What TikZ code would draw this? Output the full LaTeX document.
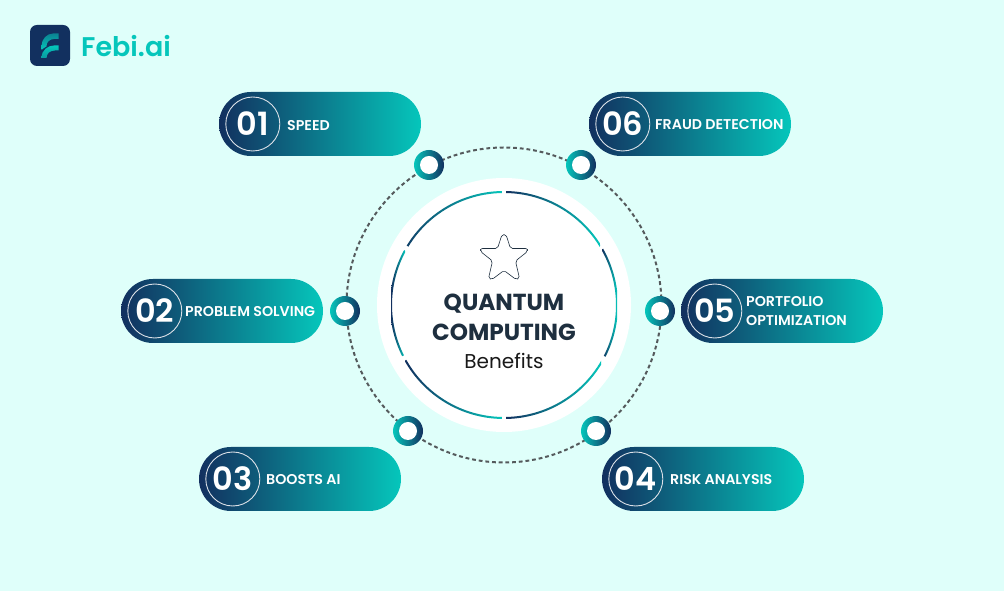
\documentclass[tikz,border=0pt]{standalone}
\usepackage{fontspec}
\setmainfont{Poppins}[BoldFont={* SemiBold}]
\newfontfamily\popbold{Poppins}[UprightFont={* Bold}]
\definecolor{bgc}{HTML}{DFFFFA}
\definecolor{navy}{HTML}{12305F}
\definecolor{teal2}{HTML}{05C6BB}
\definecolor{inkc}{HTML}{1E2F3F}
\definecolor{dotc}{HTML}{555A5C}
\tikzset{
  x=1pt,y=1pt,
  pill/.style={rounded corners=32pt,minimum width=202pt,minimum height=64pt,inner sep=0pt,left color=navy,right color=teal2},
  numring/.style={circle,draw=white!85!navy,line width=0.9pt,minimum size=54pt,inner sep=0pt,text=white,font=\bfseries\fontsize{32}{32}\selectfont},
  plabel/.style={anchor=west,inner sep=0pt,text=white,align=left,font=\bfseries\fontsize{14.2}{19}\selectfont},
  ringout/.style={circle,minimum size=30pt,inner sep=0pt,left color=teal2,right color=navy},
  ringin/.style={circle,minimum size=18pt,inner sep=0pt,fill=white},
}
\newcommand{\gradarc}[4]{%
  \begin{scope}
    \clip ([shift={(#1:114)}]504,286) arc[start angle=#1,end angle=#2,radius=114]
       -- ([shift={(#2:112)}]504,286) arc[start angle=#2,end angle=#1,radius=112] -- cycle;
    \shade[left color=navy,right color=teal2] (#3,160) rectangle (#4,412);
  \end{scope}}
\newcommand{\pillitem}[7]{% name, cx, cy, number, label x, label y, label
  \node[pill] (p#1) at (#2,#3) {};
  \node[numring] (n#1) at (#2-67.2,#3) {\raisebox{-1.5pt}{#4}};
  \node[plabel] (t#1) at (#5,#6) {#7};
}
\begin{document}
\begin{tikzpicture}
\useasboundingbox (0,0) rectangle (1004,591);
\fill[bgc] (0,0) rectangle (1004,591);
% logo
\node[fill=navy,rounded corners=7pt,minimum width=40pt,minimum height=41pt,inner sep=0pt] (logo) at (50,545.5) {};
\shade[top color=teal2!55!navy,bottom color=teal2] (41.5,541) -- (41.5,545) .. controls (41.5,552) and (47,557.5) .. (53,557.5) -- (58.5,557.5) -- (58.5,552) -- (54,552) .. controls (50,552) and (46.5,549) .. (46.5,545) -- (46.5,544.5) .. controls (44.5,543.5) and (43,542.5) .. (41.5,541) -- cycle;
\shade[top color=teal2,bottom color=teal2!70!navy] (41.5,533) .. controls (41.5,541) and (48,545.5) .. (54,545.5) -- (58.5,545.5) -- (58.5,540.5) -- (55,540.5) .. controls (50,540.5) and (46.5,537.5) .. (46.5,533) -- cycle;
\node[anchor=west,inner sep=0pt,text=teal2,font=\bfseries\fontsize{27}{27}\selectfont] (brand) at (81,545) {Febi.ai};
% dashed orbit
\node[circle,draw=dotc,line width=2pt,dash pattern=on 3.8pt off 2.9pt,minimum size=315pt,inner sep=0pt] (orbit) at (504,286) {};
% centre
\node[circle,fill=white,minimum size=254pt,inner sep=0pt] (hub) at (504,286) {};
\gradarc{89}{31.3}{506}{600}
\gradarc{29.6}{-27}{602}{617}
\gradarc{-29.5}{-89}{506}{601}
\gradarc{91}{148.6}{394}{502}
\gradarc{151.2}{206.7}{391}{405}
\gradarc{209.3}{269}{405}{502}
% star
\draw[inkc,line width=0.6pt,rounded corners=2pt,line join=round]
  (502,356.5) -- (506,356.5) -- (510.5,342.5) -- (527.5,342.5) -- (527.5,339.5) -- (515.5,330) -- (519.5,312.5) -- (516,311.5) -- (504,320.5) -- (492,311.5) -- (488.5,312.5) -- (492.5,330) -- (480.5,339.5) -- (480.5,342.5) -- (497.5,342.5) -- cycle;
% centre text
\node[inner sep=0pt,text=inkc,font=\popbold\fontsize{23.2}{23}\selectfont] (q1) at (504,287) {QUANTUM};
\node[inner sep=0pt,text=inkc,font=\popbold\fontsize{23.2}{23}\selectfont] (q2) at (504,259) {COMPUTING};
\node[inner sep=0pt,text=black!90,font=\fontsize{20}{20}\selectfont] (q3) at (504,230) {Benefits};
% rings
\foreach \n/\x/\y in {a/429/426,b/581/426,c/345/280,d/660/280,e/408/160,f/596/160}{
  \node[ringout] (r\n) at (\x,\y) {};
  \node[ringin] (i\n) at (\x,\y) {};
}
% pills
\pillitem{1}{320}{467}{01}{287}{465.5}{SPEED}
\pillitem{2}{222}{280}{02}{185}{279}{PROBLEM SOLVING}
\pillitem{3}{300}{112}{03}{266}{111}{BOOSTS AI}
\pillitem{4}{703}{112}{04}{670}{111}{RISK ANALYSIS}
\pillitem{5}{782}{280}{05}{746}{280}{PORTFOLIO\\OPTIMIZATION}
\pillitem{6}{690}{467}{06}{655}{466}{FRAUD DETECTION}
\end{tikzpicture}
\end{document}
